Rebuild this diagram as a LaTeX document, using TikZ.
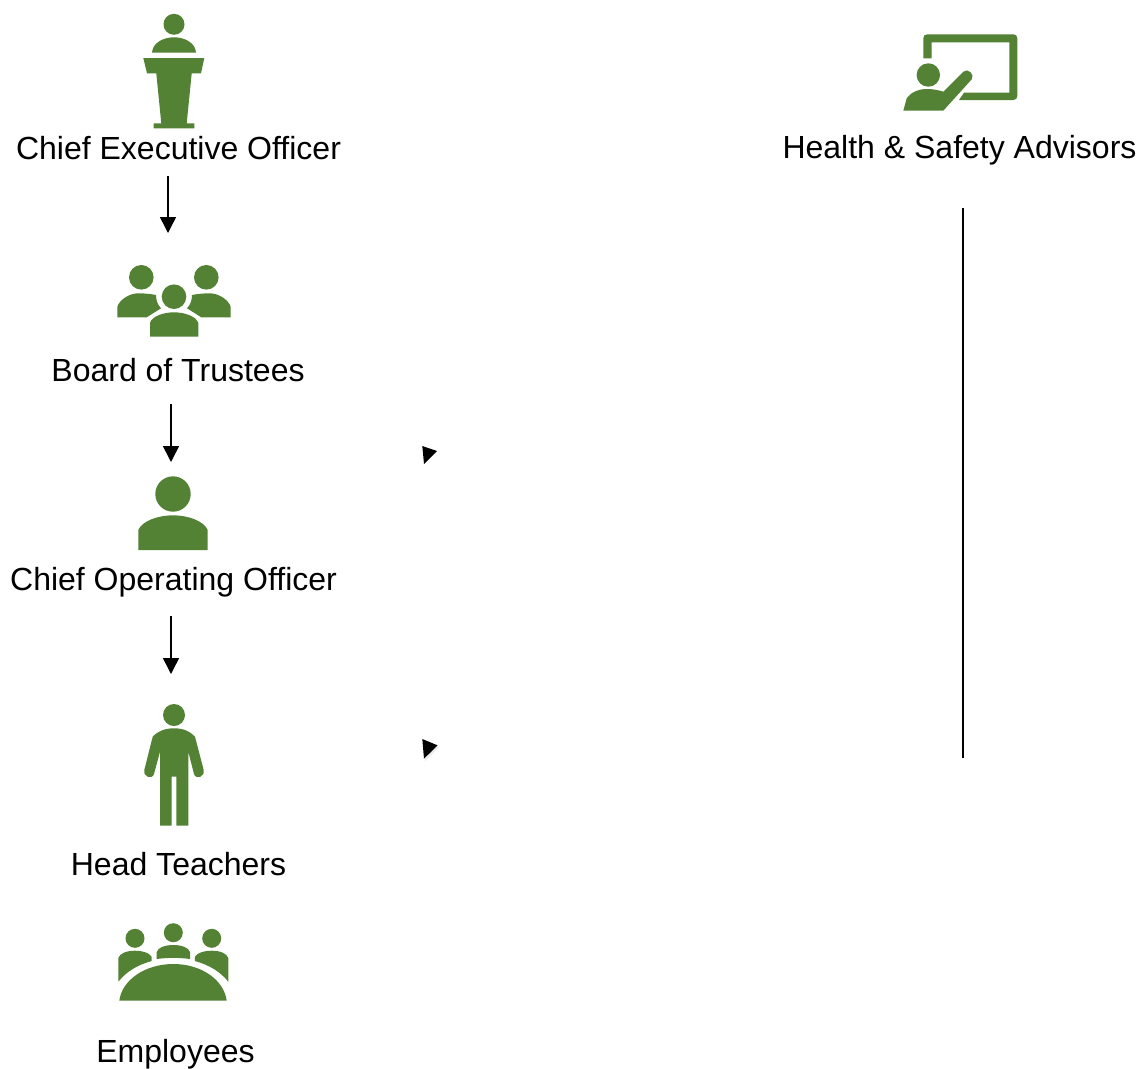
\documentclass[tikz,border=0pt]{standalone}
\usepackage{fontspec}
\setmainfont{Liberation Sans}
\usetikzlibrary{arrows.meta}
\definecolor{iconG}{HTML}{548235}
\tikzset{
  icon/.style={fill=iconG,draw=none},
  lab/.style={anchor=base,inner sep=0pt,font=\fontsize{32}{32}\selectfont,text=black},
  flow/.style={draw=black,line width=1.5pt,-{Triangle[length=16pt,width=16pt]}},
  plainline/.style={draw=black,line width=1.5pt},
  stub/.style={fill=black,draw=none}
}
\begin{document}
\begin{tikzpicture}[x=1pt,y=-1pt]
\useasboundingbox (0,0) rectangle (1139,1068);
\fill[white] (0,0) rectangle (1139,1068);
% Chief Executive Officer icon
\fill[icon] (174,24.3) circle[radius=10.5];
\fill[icon] (152,52.7) .. controls (152.5,43) and (163,37.3) .. (174,37.3) .. controls (185,37.3) and (195.5,43) .. (196,52.7) -- cycle;
\fill[icon] (143.3,58) -- (204.3,58) -- (201,73.3) -- (191.7,73.3) -- (186.7,123.3) -- (194.3,123.3) -- (194.3,128.3) -- (153.7,128.3) -- (153.7,123.3) -- (161.3,123.3) -- (156.3,73.3) -- (147,73.3) -- cycle;
% Health and Safety icon
\fill[icon] (923.3,58.3) -- (923.3,38.3) .. controls (923.3,35.8) and (924.8,34.3) .. (927.3,34.3) -- (1013.3,34.3) .. controls (1015.8,34.3) and (1017.3,35.8) .. (1017.3,38.3) -- (1017.3,96) .. controls (1017.3,98.5) and (1015.8,100) .. (1013.3,100) -- (959,100) -- (964,92.7) -- (1009.3,92.7) -- (1009.3,42.3) -- (931.7,42.3) -- (931.7,58.3) -- cycle;
\fill[icon] (928.3,75) circle[radius=11.7];
\fill[icon] (903.3,110.7) -- (906.7,98.3) .. controls (911,92) and (919,89) .. (926.7,89) .. controls (933,89) and (938,90) .. (943.3,91.7) -- (963.3,71.7) .. controls (968,67.5) and (975,74.5) .. (971.7,79.3) -- (943.3,110.7) -- cycle;
% Board of Trustees icon
\fill[icon] (141.3,277.3) circle[radius=12.3];
\fill[icon] (206.3,277.3) circle[radius=12.3];
\fill[icon] (174,296.7) circle[radius=12.3];
\fill[icon] (150,336.7) -- (150,323) .. controls (152,316) and (164,312.3) .. (174,312.3) .. controls (184,312.3) and (196,316) .. (198.3,323) -- (198.3,336.7) -- cycle;
\fill[icon] (117.3,317.3) -- (117.3,306.7) .. controls (120,299) and (130,293.3) .. (138.3,293.3) .. controls (145,293.3) and (151,294) .. (156,295) .. controls (156,301) and (158,305) .. (161,308.3) -- (146.7,317.3) -- cycle;
\fill[icon] (230.7,317.3) -- (230.7,306.7) .. controls (228,299) and (218,293.3) .. (209.7,293.3) .. controls (203,293.3) and (197,294) .. (192,295) .. controls (192,301) and (190,305) .. (187,308.3) -- (201.3,317.3) -- cycle;
% Chief Operating Officer icon
\fill[icon] (173,494) circle[radius=17.7];
\fill[icon] (138.3,550) -- (138.3,530) .. controls (142,521) and (158,515.3) .. (173,515.3) .. controls (188,515.3) and (204,521) .. (207.7,530) -- (207.7,550) -- cycle;
% Head Teachers icon
\fill[icon] (174,715) circle[radius=11];
\fill[icon] (174,728.3) .. controls (183,728.3) and (190,731) .. (195,736.7) -- (203.7,770) .. controls (205,777) and (196,780) .. (194,774) -- (188.3,751.7) -- (188.3,825.7) -- (176.3,825.7) -- (176.3,776.7) -- (171.7,776.7) -- (171.7,825.7) -- (160,825.7) -- (160,751.7) -- (154,774) .. controls (152,780) and (143,777) .. (144.3,770) -- (152.7,736.7) .. controls (158,731) and (165,728.3) .. (174,728.3) -- cycle;
% Employees icon
\fill[icon] (135,938.3) circle[radius=9.5];
\fill[icon] (173.3,932.7) circle[radius=9.5];
\fill[icon] (211.7,938.3) circle[radius=9.5];
\fill[icon] (156.7,959) -- (156.7,952) .. controls (158,947.5) and (165,945) .. (173.3,945) .. controls (181.6,945) and (188.6,947.5) .. (190,952) -- (190,959) .. controls (179,957.5) and (167.5,957.5) .. (156.7,959) -- cycle;
\fill[icon] (118.3,981.7) -- (118.3,958) .. controls (120,953) and (127,950.7) .. (135,950.7) .. controls (142,950.7) and (149,952.5) .. (151.7,956.7) -- (151.7,961) .. controls (137,965) and (126,972) .. (118.3,981.7) -- cycle;
\fill[icon] (228.3,981.7) -- (228.3,958) .. controls (226.6,953) and (219.6,950.7) .. (211.6,950.7) .. controls (204.6,950.7) and (197.6,952.5) .. (194.9,956.7) -- (194.9,961) .. controls (209.6,965) and (220.6,972) .. (228.3,981.7) -- cycle;
\fill[icon] (119.3,1000.7) .. controls (122,980) and (145,964) .. (173.3,964) .. controls (201.6,964) and (224,980) .. (226.7,1000.7) -- cycle;
% Labels
\node[lab] (ceo) at (178.5,159) {Chief Executive Officer};
\node[lab] (hsa) at (959.5,158) {Health \& Safety Advisors};
\node[lab] (bot) at (178,381) {Board of Trustees};
\node[lab] (coo) at (173.5,590) {Chief Operating Officer};
\node[lab] (ht) at (178.5,875) {Head Teachers};
\node[lab] (emp) at (175.5,1062) {Employees};
% Connector ends
\coordinate (a1) at (168,176);
\coordinate (a2) at (168,233);
\coordinate (b1) at (171,404);
\coordinate (b2) at (171,462);
\coordinate (c1) at (171,616);
\coordinate (c2) at (171,674);
\coordinate (d1) at (963,208);
\coordinate (d2) at (963,758);
\draw[flow] (a1) -- (a2);
\draw[flow] (b1) -- (b2);
\draw[flow] (c1) -- (c2);
\draw[plainline] (d1) -- (d2);
% Stray arrow tips
\fill[stub] (422.3,446) -- (437,451) -- (424,464) -- cycle;
\fill[black,opacity=0.08] (422.8,741) -- (439,747.3) -- (425,761) -- cycle;
\fill[stub] (422.3,739) -- (437.5,745.3) -- (424,758.7) -- cycle;
\end{tikzpicture}
\end{document}
